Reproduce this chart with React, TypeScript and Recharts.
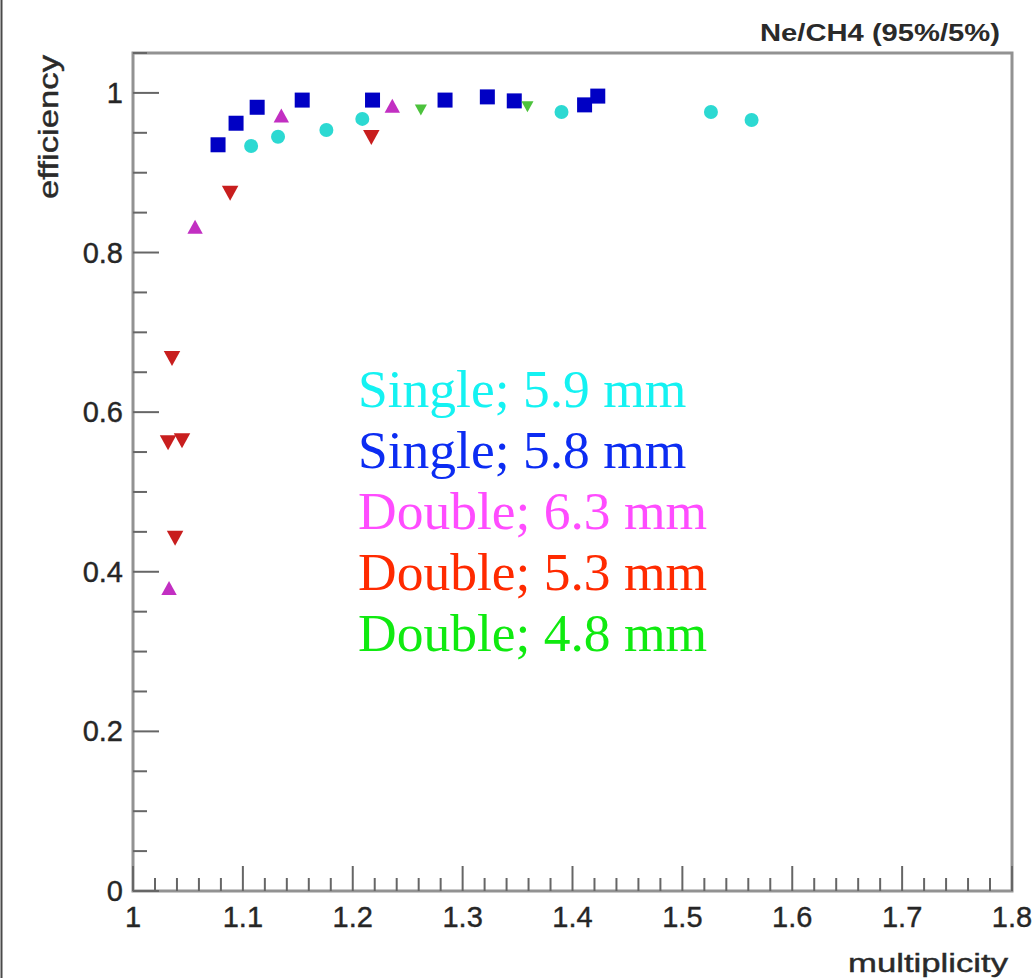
import React from 'react';
import { ScatterChart, Scatter, XAxis, YAxis, ReferenceArea } from 'recharts';

// Efficiency vs. multiplicity, Ne/CH4 (95%/5%)
const single59X = [1.1075, 1.132, 1.176, 1.2087, 1.39, 1.526, 1.563];
const single59Y = [0.9335, 0.945, 0.9536, 0.9674, 0.976, 0.976, 0.966];

const single58X = [1.0774, 1.0938, 1.113, 1.154, 1.218, 1.284, 1.3225, 1.347, 1.411, 1.423];
const single58Y = [0.935, 0.962, 0.982, 0.991, 0.991, 0.991, 0.995, 0.99, 0.985, 0.996];

const double63X = [1.0328, 1.0565, 1.135, 1.236];
const double63Y = [0.378, 0.8306, 0.97, 0.982];

const double53X = [1.0355, 1.0319, 1.0446, 1.0383, 1.0884, 1.2169];
const double53Y = [0.669, 0.5634, 0.5659, 0.444, 0.876, 0.9461];

const double48X = [1.262, 1.359];
const double48Y = [0.98, 0.984];

const legendLabels = ['Single; 5.9 mm', 'Single; 5.8 mm', 'Double; 6.3 mm', 'Double; 5.3 mm', 'Double; 4.8 mm'];
const legendColors = ['#14f2f2', '#0c2cf2', '#ff4cff', '#ff2a00', '#10ea10'];

const xMajorTicks = [1, 1.1, 1.2, 1.3, 1.4, 1.5, 1.6, 1.7, 1.8];
const yMajorTicks = [0, 0.2, 0.4, 0.6, 0.8, 1];

const xMinorStep = 0.02;
const yMinorStep = 0.05;
const xTicks = Array.from({ length: 41 }, (_, i) => +(1 + i * xMinorStep).toFixed(2));
const yTicks = Array.from({ length: 22 }, (_, i) => +(i * yMinorStep).toFixed(2));

const toPoints = (xs: number[], ys: number[]) => xs.map((x, i) => ({ x, y: ys[i] }));

const isMajor = (v: number, list: number[]) => list.some((m) => Math.abs(m - v) < 1e-6);

const TICK_COLOR = '#666';
const LABEL_COLOR = '#262626';
const SANS = '"Liberation Sans", Arial, Helvetica, sans-serif';

const XTick = (props: any) => {
  const { x, y, payload } = props;
  const v = payload.value as number;
  const major = isMajor(v, xMajorTicks);
  return (
    <g>
      <line x1={x} y1={y} x2={x} y2={y - (major ? 25 : 13)} stroke={TICK_COLOR} strokeWidth={2} />
      {major && (
        <text
          x={x}
          y={y + 36}
          textAnchor="middle"
          fontFamily={SANS}
          fontSize={29}
          fill={LABEL_COLOR}
          stroke={LABEL_COLOR}
          strokeWidth={0.4}
        >
          {String(+v.toFixed(1))}
        </text>
      )}
    </g>
  );
};

const YTick = (props: any) => {
  const { x, y, payload } = props;
  const v = payload.value as number;
  const major = isMajor(v, yMajorTicks);
  return (
    <g>
      <line x1={x} y1={y} x2={x + (major ? 26 : 14)} y2={y} stroke={TICK_COLOR} strokeWidth={2} />
      {major && (
        <text
          x={x - 10}
          y={y + 10}
          textAnchor="end"
          fontFamily={SANS}
          fontSize={29}
          fill={LABEL_COLOR}
          stroke={LABEL_COLOR}
          strokeWidth={0.4}
        >
          {String(+v.toFixed(1))}
        </text>
      )}
    </g>
  );
};

const Square = (fill: string, size: number) => (p: any) => (
  <rect x={p.cx - size / 2} y={p.cy - size / 2} width={size} height={size} fill={fill} />
);
const Dot = (fill: string, r: number) => (p: any) => <circle cx={p.cx} cy={p.cy} r={r} fill={fill} />;
const TriUp = (fill: string, s: number) => (p: any) => (
  <polygon
    points={`${p.cx},${p.cy - s * 0.6} ${p.cx - s * 0.55},${p.cy + s * 0.4} ${p.cx + s * 0.55},${p.cy + s * 0.4}`}
    fill={fill}
  />
);
const TriDown = (fill: string, s: number) => (p: any) => (
  <polygon
    points={`${p.cx - s * 0.55},${p.cy - s * 0.4} ${p.cx + s * 0.55},${p.cy - s * 0.4} ${p.cx},${p.cy + s * 0.6}`}
    fill={fill}
  />
);

export default function App() {
  const W = 1035;
  const H = 978;
  return (
    <div style={{ position: 'absolute', left: 0, top: 0, width: W, height: H, background: '#fff' }}>
      <ScatterChart width={W} height={H} margin={{ top: 53, right: 23, bottom: 47, left: 73 }}>
        <XAxis
          type="number"
          dataKey="x"
          domain={[1, 1.8]}
          ticks={xTicks}
          interval={0}
          tickSize={0}
          tickMargin={0}
          tickLine={false}
          axisLine={false}
          tick={XTick}
          height={40}
          allowDataOverflow
        />
        <YAxis
          type="number"
          dataKey="y"
          domain={[0, 1.05]}
          ticks={yTicks}
          interval={0}
          tickSize={0}
          tickMargin={0}
          tickLine={false}
          axisLine={false}
          tick={YTick}
          width={60}
          allowDataOverflow
        />
        <ReferenceArea x1={1} x2={1.8} y1={0} y2={1.05} fill="none" stroke="#929292" strokeWidth={3} />
        <Scatter data={toPoints(single59X, single59Y)} shape={Dot('#2cd9d2', 7)} isAnimationActive={false} />
        <Scatter data={toPoints(single58X, single58Y)} shape={Square('#0000c4', 15)} isAnimationActive={false} />
        <Scatter data={toPoints(double63X, double63Y)} shape={TriUp('#c22fc2', 14)} isAnimationActive={false} />
        <Scatter data={toPoints(double53X, double53Y)} shape={TriDown('#c81e1e', 15)} isAnimationActive={false} />
        <Scatter data={toPoints(double48X, double48Y)} shape={TriDown('#4cc23c', 11)} isAnimationActive={false} />
      </ScatterChart>
      <svg
        width={W}
        height={H}
        style={{ position: 'absolute', left: 0, top: 0, pointerEvents: 'none' }}
      >
        <line x1={1.5} y1={0} x2={1.5} y2={H} stroke="#4a4a4a" strokeWidth={2} />
        <text
          x={760}
          y={41}
          fontFamily={SANS}
          fontWeight="bold"
          fontSize={24}
          fill="#2a2a2a"
          textLength={240}
          lengthAdjust="spacingAndGlyphs"
        >
          Ne/CH4 (95%/5%)
        </text>
        <text
          x={848}
          y={972}
          fontFamily={SANS}
          fontSize={25}
          fill="#2a2a2a"
          stroke="#2a2a2a"
          strokeWidth={0.4}
          textLength={160}
          lengthAdjust="spacingAndGlyphs"
        >
          multiplicity
        </text>
        <text
          transform="translate(58,199) rotate(-90)"
          fontFamily={SANS}
          fontSize={27}
          fill="#2a2a2a"
          stroke="#2a2a2a"
          strokeWidth={0.4}
          textLength={144}
          lengthAdjust="spacingAndGlyphs"
        >
          efficiency
        </text>
        {legendLabels.map((label, i) => (
          <text
            key={label}
            x={358}
            y={407 + i * 61}
            fontFamily='"Liberation Serif", "Times New Roman", serif'
            fontSize={53.5}
            fill={legendColors[i]}
          >
            {label}
          </text>
        ))}
      </svg>
    </div>
  );
}
